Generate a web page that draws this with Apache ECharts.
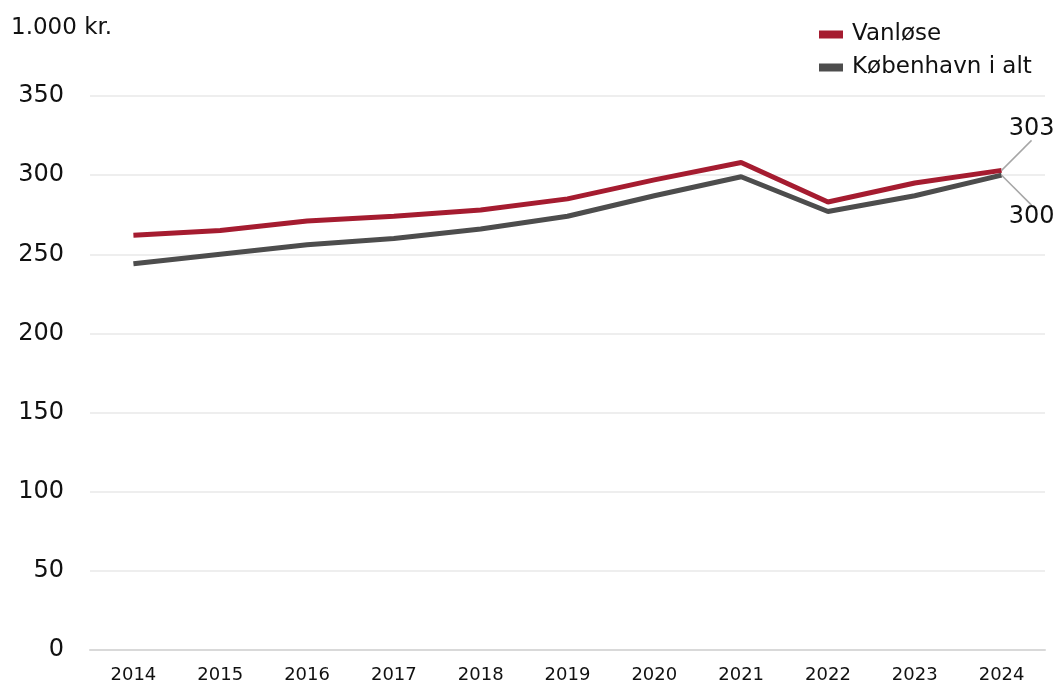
<!DOCTYPE html>
<html>
<head>
<meta charset="utf-8">
<script src="https://cdn.jsdelivr.net/npm/echarts@6/dist/echarts.min.js"></script>
<style>
  html, body { margin: 0; padding: 0; background: #fff; }
  #chart { width: 1063px; height: 688px; }
</style>
</head>
<body>
<div id="chart"></div>
<script>
// data
var years = ["2014", "2015", "2016", "2017", "2018", "2019", "2020", "2021", "2022", "2023", "2024"];
var vanlose = [262, 265, 271, 274, 278, 285, 297, 308, 283, 295, 303];
var kobenhavn = [244, 250, 256, 260, 266, 274, 287, 299, 277, 287, 300];

var FONT = "DejaVu Sans";

// only the last point gets a label with a leader line
function withEndLabel(values) {
  return values.map(function (v, i) {
    if (i !== values.length - 1) return v;
    return { value: v, label: { show: true } };
  });
}

var chart = echarts.init(document.getElementById("chart"));

chart.setOption({
  animation: false,
  textStyle: { fontFamily: FONT },
  title: {
    text: "1.000 kr.",
    left: 6,
    top: 12,
    textStyle: { fontFamily: FONT, fontSize: 23, fontWeight: "normal", color: "#111" }
  },
  legend: {
    orient: "vertical",
    left: 814,
    top: 18,
    itemWidth: 24,
    itemHeight: 8,
    itemGap: 10,
    icon: "rect",
    textStyle: { fontFamily: FONT, fontSize: 23, color: "#111", padding: [0, 0, 0, 4] },
    data: ["Vanløse", "København i alt"]
  },
  grid: {
    left: 90,
    right: 18,
    top: 96,
    bottom: 38,
    containLabel: false
  },
  xAxis: {
    type: "category",
    data: years,
    boundaryGap: true,
    axisTick: { show: false },
    axisLine: { lineStyle: { color: "#d9d9d9", width: 2 } },
    axisLabel: { fontFamily: FONT, fontSize: 18, color: "#111", margin: 16 }
  },
  yAxis: {
    type: "value",
    min: 0,
    max: 350,
    interval: 50,
    axisLine: { show: false },
    axisTick: { show: false },
    splitLine: { lineStyle: { color: "#eeeeee", width: 2 } },
    axisLabel: { fontFamily: FONT, fontSize: 24, color: "#111", margin: 26 }
  },
  series: [
    {
      name: "København i alt",
      type: "line",
      data: withEndLabel(kobenhavn),
      symbol: "circle",
      symbolSize: 0.1,
      showSymbol: true,
      lineStyle: { color: "#4d4d4d", width: 5 },
      itemStyle: { color: "#4d4d4d" },
      label: { show: false, position: "right", fontFamily: FONT, fontSize: 24, color: "#111" },
      labelLine: { show: true, lineStyle: { color: "#a6a6a6", width: 1.5 } },
      labelLayout: { dx: 2, dy: 42 }
    },
    {
      name: "Vanløse",
      type: "line",
      data: withEndLabel(vanlose),
      symbol: "circle",
      symbolSize: 0.1,
      showSymbol: true,
      lineStyle: { color: "#a51c30", width: 5 },
      itemStyle: { color: "#a51c30" },
      label: { show: false, position: "right", fontFamily: FONT, fontSize: 24, color: "#111" },
      labelLine: { show: true, lineStyle: { color: "#a6a6a6", width: 1.5 } },
      labelLayout: { dx: 2, dy: -42 }
    }
  ]
});
</script>
</body>
</html>
